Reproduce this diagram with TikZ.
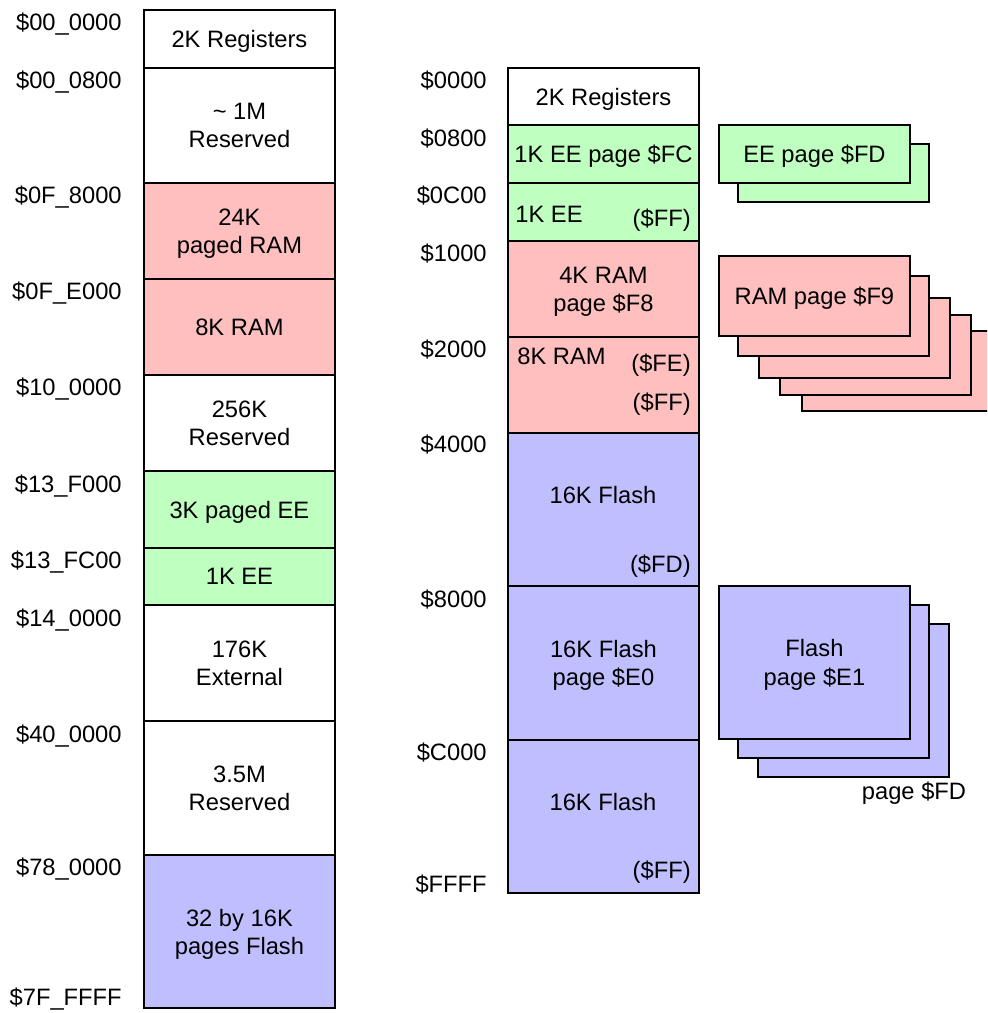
\documentclass[tikz,border=0pt]{standalone}
\usepackage{fontspec}
\setmainfont{Liberation Sans}
\usepackage{tikz}

\definecolor{ramc}{RGB}{255,191,191}
\definecolor{eec}{RGB}{191,255,191}
\definecolor{flashc}{RGB}{191,191,255}

\begin{document}
\begin{tikzpicture}[x=0.02cm, y=-0.02cm, font=\fontsize{13.5}{16}\selectfont,
    blk/.style = {draw, line width=1.1pt, anchor=north west, minimum width=3.82cm, align=center, inner sep=0pt, text depth=0pt},
    addr/.style = {anchor=east, inner sep=0pt},
    txt/.style = {inner sep=0pt, align=center}]
    \useasboundingbox (0,0) rectangle (987,1013);
    \clip (0,0) rectangle (987,1013);

    % global map
    \node[blk, minimum height=1.16cm] (g1) at (143,9) {2K Registers};
    \node[blk, minimum height=2.30cm] (g2) at (143,67) {\textasciitilde\ 1M\\Reserved};
    \node[blk, fill=ramc, minimum height=1.92cm] (g3) at (143,182) {24K\\paged RAM};
    \node[blk, fill=ramc, minimum height=1.92cm] (g4) at (143,278) {8K RAM};
    \node[blk, minimum height=1.92cm] (g5) at (143,374) {256K\\Reserved};
    \node[blk, fill=eec, minimum height=1.54cm] (g6) at (143,470) {3K paged EE};
    \node[blk, fill=eec, minimum height=1.14cm] (g7) at (143,547) {1K EE};
    \node[blk, minimum height=2.32cm] (g8) at (143,604) {176K\\External};
    \node[blk, minimum height=2.68cm] (g9) at (143,720) {3.5M\\Reserved};
    \node[blk, fill=flashc, minimum height=3.06cm] (g10) at (143,854) {32 by 16K\\pages Flash};

    \node[addr] (ga1) at (122,24) {\$00\_0000};
    \node[addr] (ga2) at (122,82) {\$00\_0800};
    \node[addr] (ga3) at (122,197) {\$0F\_8000};
    \node[addr] (ga4) at (122,293) {\$0F\_E000};
    \node[addr] (ga5) at (122,389) {\$10\_0000};
    \node[addr] (ga6) at (122,486) {\$13\_F000};
    \node[addr] (ga7) at (122,562) {\$13\_FC00};
    \node[addr] (ga8) at (122,620) {\$14\_0000};
    \node[addr] (ga9) at (122,736) {\$40\_0000};
    \node[addr] (ga10) at (122,869) {\$78\_0000};
    \node[addr] (ga11) at (122,999) {\$7F\_FFFF};

    % local map
    \node[blk, minimum height=1.14cm] (l1) at (507,67) {2K Registers};
    \node[blk, fill=eec, minimum height=1.16cm] (l2) at (507,124) {1K EE page \$FC};
    \node[blk, fill=eec, minimum height=1.16cm] (l3) at (507,182) {};
    \node[blk, fill=ramc, minimum height=1.92cm] (l4) at (507,240) {4K RAM\\page \$F8};
    \node[blk, fill=ramc, minimum height=1.92cm] (l5) at (507,336) {};
    \node[blk, fill=flashc, minimum height=3.06cm] (l6) at (507,432) {};
    \node[blk, fill=flashc, minimum height=3.08cm] (l7) at (507,585) {16K Flash\\page \$E0};
    \node[blk, fill=flashc, minimum height=3.06cm] (l8) at (507,739) {};

    \node[txt, anchor=west] (t3a) at (515,214) {1K EE};
    \node[txt, anchor=east] (t3b) at (691,220) {(\$FF)};
    \node[txt, anchor=west] (t5a) at (517,356) {8K RAM};
    \node[txt, anchor=east] (t5b) at (691,365) {(\$FE)};
    \node[txt, anchor=east] (t5c) at (691,404) {(\$FF)};
    \node[txt] (t6a) at (603,495) {16K Flash};
    \node[txt, anchor=east] (t6b) at (691,566) {(\$FD)};
    \node[txt] (t8a) at (603,802) {16K Flash};
    \node[txt, anchor=east] (t8b) at (691,872) {(\$FF)};

    \node[addr] (la1) at (487,81) {\$0000};
    \node[addr] (la2) at (487,139) {\$0800};
    \node[addr] (la3) at (487,196) {\$0C00};
    \node[addr] (la4) at (487,254) {\$1000};
    \node[addr] (la5) at (487,350) {\$2000};
    \node[addr] (la6) at (487,445) {\$4000};
    \node[addr] (la7) at (487,600) {\$8000};
    \node[addr] (la8) at (487,753) {\$C000};
    \node[addr] (la9) at (487,885) {\$FFFF};

    % page stacks
    \node[blk, fill=eec, minimum height=1.16cm] (ee2) at (737,143) {};
    \node[blk, fill=eec, minimum height=1.16cm] (ee1) at (718,124) {EE page \$FD};

    \node[blk, fill=ramc, minimum height=1.60cm] (ram5) at (801,330) {};
    \node[blk, fill=ramc, minimum height=1.60cm] (ram4) at (779,314) {};
    \node[blk, fill=ramc, minimum height=1.60cm] (ram3) at (758,297) {};
    \node[blk, fill=ramc, minimum height=1.60cm] (ram2) at (737,275) {};
    \node[blk, fill=ramc, minimum height=1.60cm] (ram1) at (718,255) {RAM page \$F9};

    \node[blk, fill=flashc, minimum height=3.06cm] (fl3) at (757,623) {};
    \node[blk, fill=flashc, minimum height=3.06cm] (fl2) at (737,604) {};
    \node[blk, fill=flashc, minimum height=3.06cm] (fl1) at (718,585) {Flash\\page \$E1};
    \node[txt] (fltop) at (914,793) {page \$FD};
\end{tikzpicture}
\end{document}
